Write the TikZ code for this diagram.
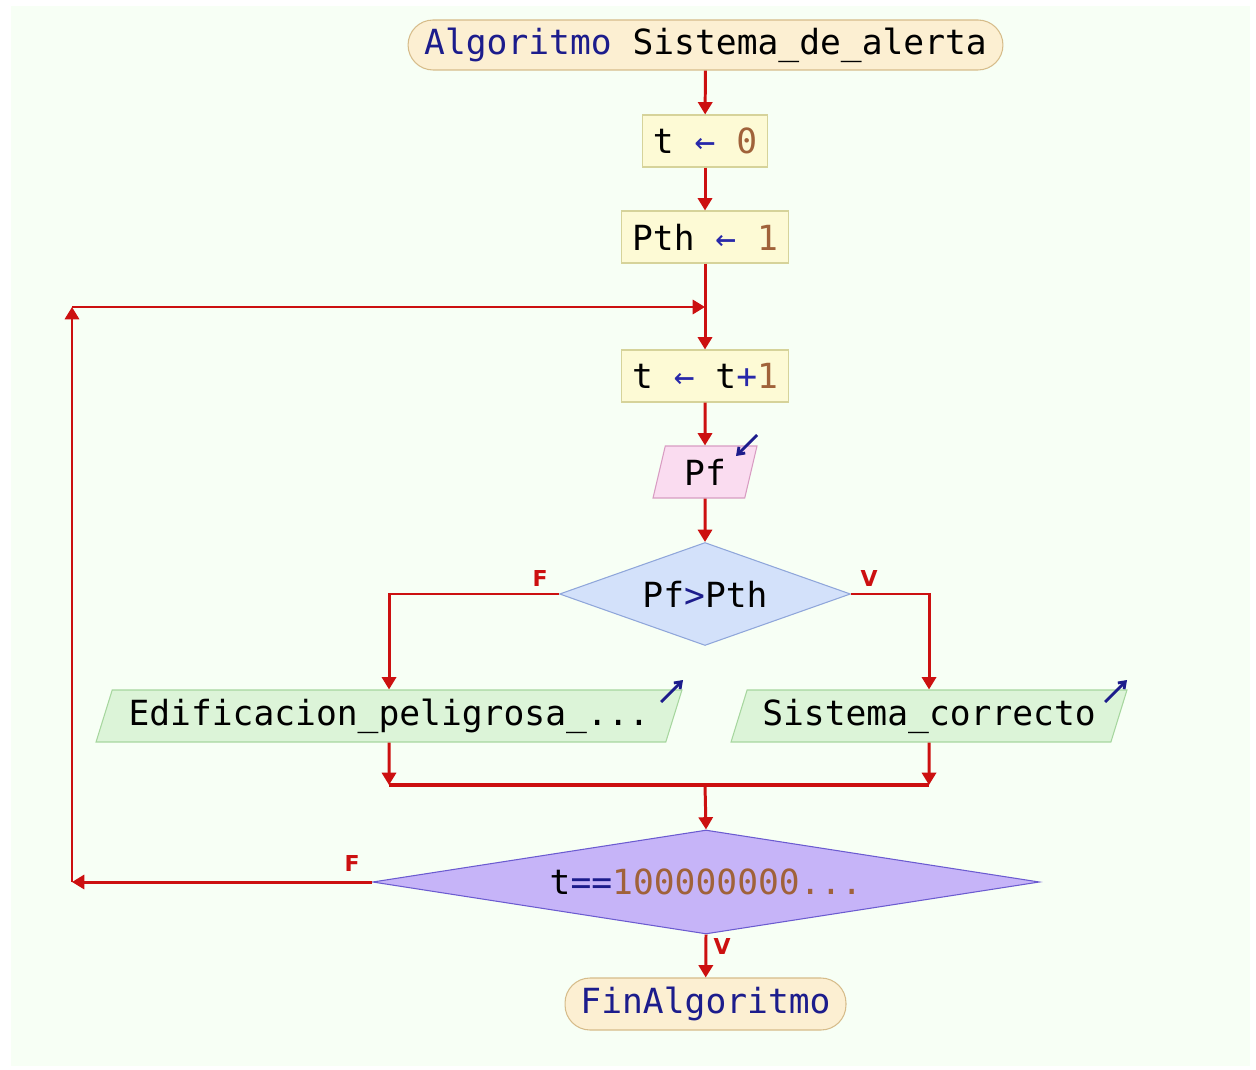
\documentclass[tikz,border=0pt]{standalone}
\usepackage{fontspec}
\setmonofont{DejaVu Sans Mono}
\newfontfamily\tagfont{DejaVu Sans}
\usepackage{tikz}
\usetikzlibrary{shapes.geometric,arrows.meta}
\definecolor{panel}{RGB}{247,255,245}
\definecolor{flowred}{RGB}{204,16,16}
\definecolor{navy}{RGB}{28,28,140}
\definecolor{assign}{RGB}{40,40,170}
\definecolor{num}{RGB}{160,98,58}
\definecolor{endfill}{RGB}{252,239,210}
\definecolor{enddraw}{RGB}{214,188,138}
\definecolor{procfill}{RGB}{253,250,213}
\definecolor{procdraw}{RGB}{214,211,154}
\definecolor{infill}{RGB}{250,220,240}
\definecolor{indraw}{RGB}{216,156,194}
\definecolor{ifill}{RGB}{211,225,250}
\definecolor{idraw}{RGB}{143,166,218}
\definecolor{outfill}{RGB}{220,244,216}
\definecolor{outdraw}{RGB}{166,214,158}
\definecolor{loopfill}{RGB}{198,180,248}
\definecolor{loopdraw}{RGB}{107,91,208}
\newcommand{\kw}[1]{\textcolor{navy}{#1}}
\newcommand{\op}[1]{\textcolor{assign}{#1}}
\newcommand{\nm}[1]{\textcolor{num}{#1}}
\newcommand{\drawflow}{\draw[flow]}
\tikzset{
  flow/.style={draw=flowred, line width=1.7pt, -{Triangle[width=8pt,length=7pt]}},
  bare/.style={draw=flowred, line width=1.7pt},
  ioarrow/.style={draw=navy, line width=1.6pt, -{Straight Barb[width=5pt,length=3.5pt]}},
  txt/.style={font=\ttfamily\fontsize{19.7}{22}\selectfont, inner sep=0pt},
  endbox/.style={txt, rectangle, rounded corners=0.5cm, fill=endfill, draw=enddraw, line width=0.6pt, minimum height=1cm},
  procbox/.style={txt, rectangle, fill=procfill, draw=procdraw, line width=0.6pt, minimum height=1.04cm},
  iobox/.style={txt, trapezium, trapezium left angle=65, trapezium right angle=115, trapezium stretches body, line width=0.6pt, minimum height=1.04cm},
  decbox/.style={txt, diamond, line width=0.6pt},
  tag/.style={font=\tagfont\bfseries\fontsize{12.5}{14}\selectfont, text=flowred, inner sep=0pt}
}
\begin{document}
\begin{tikzpicture}[x=0.02cm,y=-0.02cm]
\useasboundingbox (0,0) rectangle (1256,1070);
\fill[panel] (11,6) rectangle (1250,1066);
% boxes
\node[endbox, minimum width=11.9cm] (start) at (705.5,45) {\kw{Algoritmo} Sistema\_de\_alerta};
\node[procbox, minimum width=2.5cm] (tzero) at (705,141) {t \op{←} \nm{0}};
\node[procbox, minimum width=3.34cm] (pth) at (705,237) {Pth \op{←} \nm{1}};
\node[procbox, minimum width=3.34cm] (inc) at (705,376) {t \op{←} t\op{+}\nm{1}};
\node[iobox, fill=infill, draw=indraw, minimum width=2.08cm] (pf) at (705,472) {Pf};
\node[decbox, fill=ifill, draw=idraw, shape aspect=2.83, minimum width=5.82cm, minimum height=2.06cm] (cmp) at (705,594) {Pf\kw{>}Pth};
\node[iobox, fill=outfill, draw=outdraw, minimum width=11.72cm] (edif) at (389,716) {Edificacion\_peligrosa\_...};
\node[iobox, fill=outfill, draw=outdraw, minimum width=7.92cm] (sist) at (929,716) {Sistema\_correcto};
\node[decbox, fill=loopfill, draw=loopdraw, shape aspect=6.41, minimum width=13.34cm, minimum height=2.08cm] (until) at (706,882) {t\kw{==}\nm{100000000...}};
\node[endbox, minimum width=5.62cm, minimum height=1.04cm] (fin) at (705.5,1004) {\kw{FinAlgoritmo}};
% read / write marks
\draw[ioarrow] ([shift={(52,-37)}]pf.center) -- ([shift={(31,-16)}]pf.center);
\draw[ioarrow] ([shift={(272,-14)}]edif.center) -- ([shift={(294,-36)}]edif.center);
\draw[ioarrow] ([shift={(176,-14)}]sist.center) -- ([shift={(198,-36)}]sist.center);
% helper points
\coordinate (loopbl) at (72,882);
\coordinate (looptl) at (72,307);
\coordinate (back) at (705,307);
\coordinate (mergel) at (389,785);
\coordinate (merger) at (929,785);
\coordinate (merge) at (705,785);
% connectors
\drawflow (start) -- (tzero);
\drawflow (tzero) -- (pth);
\drawflow (pth) -- (inc);
\drawflow (inc) -- (pf);
\drawflow (pf) -- (cmp);
\drawflow (cmp.west) -| (edif.north);
\drawflow (cmp.east) -| (sist.north);
\drawflow (edif.south) -- (mergel);
\drawflow (sist.south) -- (merger);
\draw[bare, line width=2.3pt] (mergel) -- (merger);
\drawflow (merge) -- (until.north);
\drawflow (until.south) -- (fin);
\drawflow (until.west) -- (loopbl);
\drawflow (loopbl) -- (looptl);
\drawflow (looptl) -- (back);
% labels
\node[tag] (fone) at (540,578) {F};
\node[tag] (vone) at (869,578) {V};
\node[tag] (ftwo) at (352,863) {F};
\node[tag] (vtwo) at (722,946) {V};
\end{tikzpicture}
\end{document}
